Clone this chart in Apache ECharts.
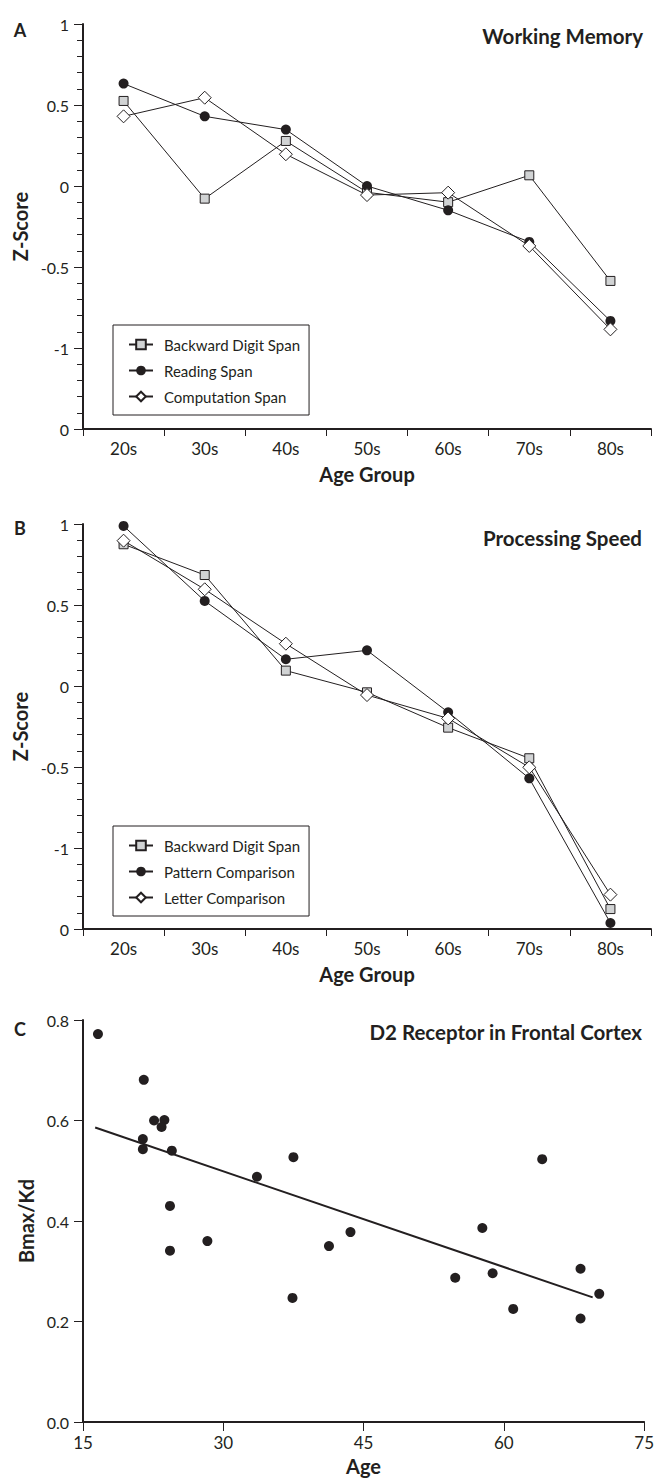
<!DOCTYPE html>
<html><head><meta charset="utf-8">
<script src="https://cdn.jsdelivr.net/npm/echarts@6/dist/echarts.min.js"></script>
<style>html,body{margin:0;padding:0;background:#fff}#c{width:657px;height:1478px}</style>
</head><body><div id="c"></div>
<script>
// ---------- data ----------
const ageGroups = ['20s', '30s', '40s', '50s', '60s', '70s', '80s'];
const zTickValues = [-1.5, -1, -0.5, 0, 0.5, 1];
const zTickLabels = ['0', '-1', '-0.5', '0', '0.5', '1'];

// Panel A: Working Memory
const wmBackwardDigit = [0.525, -0.078, 0.278, -0.039, -0.10, 0.066, -0.586];
const wmReading       = [0.632, 0.43, 0.348, 0.0, -0.15, -0.345, -0.833];
const wmComputation   = [0.43, 0.545, 0.196, -0.056, -0.041, -0.37, -0.885];

// Panel B: Processing Speed
const psBackwardDigit = [0.875, 0.685, 0.095, -0.039, -0.257, -0.446, -1.377];
const psPattern       = [0.988, 0.525, 0.165, 0.22, -0.162, -0.57, -1.463];
const psLetter        = [0.897, 0.597, 0.261, -0.056, -0.2, -0.502, -1.288];

// Panel C: D2 receptor in frontal cortex
const d2Age   = [16.6, 21.5, 22.6, 23.7, 23.4, 21.4, 21.4, 24.5, 24.3, 24.3, 28.3, 33.6, 37.5, 37.4, 41.3, 43.6, 54.8, 57.7, 58.8, 61.0, 64.1, 68.2, 68.2, 70.2];
const d2Ratio = [0.772, 0.681, 0.600, 0.601, 0.587, 0.563, 0.543, 0.540, 0.430, 0.341, 0.360, 0.488, 0.527, 0.247, 0.350, 0.378, 0.287, 0.386, 0.296, 0.225, 0.523, 0.305, 0.206, 0.255];
const fitAge   = [16.3, 69.5];
const fitRatio = [0.586, 0.248];

// ---------- style ----------
const ink = '#231f20';
const font = 'Lato';
const grey = '#d1d3d4';

function zLabel(v) {
  for (let i = 0; i < zTickValues.length; i++) if (Math.abs(zTickValues[i] - v) < 1e-9) return zTickLabels[i];
  return '';
}
function nameStyle() { return {fontSize: 20, fontWeight: 'bold', color: ink, fontFamily: font}; }

function zAxis(gi) {
  return {
    type: 'value', gridIndex: gi, min: -1.5, max: 1, interval: 0.5,
    name: 'Z-Score', nameLocation: 'middle', nameGap: 44, nameRotate: 90, nameTextStyle: nameStyle(),
    axisLine: {show: true, onZero: false, lineStyle: {color: ink, width: 2}},
    axisTick: {show: true, length: 9, lineStyle: {color: ink, width: 1}},
    minorTick: {show: true, splitNumber: 5, length: 6, lineStyle: {color: ink, width: 1}},
    splitLine: {show: false}, minorSplitLine: {show: false},
    axisLabel: {margin: 14, fontSize: 16, color: ink, fontFamily: font, formatter: zLabel}
  };
}
function ageAxis(gi) {
  return {
    type: 'category', gridIndex: gi, data: ageGroups, boundaryGap: true,
    name: 'Age Group', nameLocation: 'middle', nameGap: 35, nameTextStyle: nameStyle(),
    axisLine: {show: true, onZero: false, lineStyle: {color: ink, width: 2}},
    axisTick: {show: true, length: 7, interval: 0, alignWithLabel: false, lineStyle: {color: ink, width: 1}},
    axisLabel: {margin: 11, fontSize: 17, color: ink, fontFamily: font, interval: 0},
    splitLine: {show: false}
  };
}
function lineSeries(name, data, gi, kind) {
  const base = {
    type: 'line', name: name, data: data, xAxisIndex: gi, yAxisIndex: gi,
    lineStyle: {color: ink, width: 1}, showSymbol: true, symbolKeepAspect: true, z: 3
  };
  if (kind === 'square') {
    base.symbol = 'rect'; base.symbolSize = 9;
    base.itemStyle = {color: grey, borderColor: ink, borderWidth: 1};
  } else if (kind === 'circle') {
    base.symbol = 'circle'; base.symbolSize = 10;
    base.itemStyle = {color: ink, borderColor: ink, borderWidth: 0};
  } else {
    base.symbol = 'diamond'; base.symbolSize = 13;
    base.itemStyle = {color: '#ffffff', borderColor: ink, borderWidth: 1};
  }
  return base;
}
function legend(top, names) {
  return {
    left: 113, top: top, orient: 'vertical', data: names, selectedMode: false,
    itemWidth: 24, itemHeight: 12, itemGap: 11, padding: [12, 9, 11, 15],
    borderColor: ink, borderWidth: 1, backgroundColor: '#fff',
    textStyle: {fontSize: 15, color: ink, fontFamily: font, padding: [0, 0, 0, 6]}
  };
}
function txt(x, y, text, size, align) {
  return {type: 'text', x: x, y: y, silent: true,
    style: {text: text, align: align, verticalAlign: 'middle', fontSize: size, fontWeight: 'bold', fontFamily: font, fill: ink}};
}

const chart = echarts.init(document.getElementById('c'), null, {renderer: 'svg', width: 657, height: 1478});
chart.setOption({
  animation: false,
  backgroundColor: '#fff',
  textStyle: {fontFamily: font},
  grid: [
    {left: 83, top: 24, width: 568, height: 405},
    {left: 83, top: 524, width: 568, height: 405},
    {left: 83, top: 1020, width: 567, height: 402}
  ],
  xAxis: [
    ageAxis(0), ageAxis(1),
    {
      type: 'value', gridIndex: 2, min: 15, max: 75, interval: 15,
      name: 'Age', nameLocation: 'middle', nameGap: 34, nameTextStyle: nameStyle(),
      axisLine: {show: true, onZero: false, lineStyle: {color: ink, width: 2}},
      axisTick: {show: true, length: 9, lineStyle: {color: ink, width: 1}},
      axisLabel: {margin: 12, fontSize: 17, color: ink, fontFamily: font},
      splitLine: {show: false}
    }
  ],
  yAxis: [
    zAxis(0), zAxis(1),
    {
      type: 'value', gridIndex: 2, min: 0, max: 0.8, interval: 0.2,
      name: 'Bmax/Kd', nameLocation: 'middle', nameGap: 44, nameRotate: 90, nameTextStyle: nameStyle(),
      axisLine: {show: true, onZero: false, lineStyle: {color: ink, width: 2}},
      axisTick: {show: true, length: 9, lineStyle: {color: ink, width: 1}},
      axisLabel: {margin: 14, fontSize: 16, color: ink, fontFamily: font, formatter: v => v.toFixed(1)},
      splitLine: {show: false}
    }
  ],
  legend: [
    legend(325, ['Backward Digit Span', 'Reading Span', 'Computation Span']),
    legend(826, ['Backward Digit Span', 'Pattern Comparison', 'Letter Comparison'])
  ],
  graphic: [
    txt(20, 30, 'A', 18, 'center'),
    txt(20, 528, 'B', 18, 'center'),
    txt(20, 1029, 'C', 18, 'center'),
    txt(643, 36, 'Working Memory', 20.5, 'right'),
    txt(642, 538, 'Processing Speed', 20.5, 'right'),
    txt(642, 1032, 'D2 Receptor in Frontal Cortex', 20.5, 'right')
  ],
  series: [
    lineSeries('Backward Digit Span', wmBackwardDigit, 0, 'square'),
    lineSeries('Reading Span', wmReading, 0, 'circle'),
    lineSeries('Computation Span', wmComputation, 0, 'diamond'),
    lineSeries('Backward Digit Span', psBackwardDigit, 1, 'square'),
    lineSeries('Pattern Comparison', psPattern, 1, 'circle'),
    lineSeries('Letter Comparison', psLetter, 1, 'diamond'),
    {
      type: 'scatter', name: 'D2', xAxisIndex: 2, yAxisIndex: 2,
      data: d2Age.map((a, i) => [a, d2Ratio[i]]),
      symbol: 'circle', symbolSize: 10, itemStyle: {color: ink, opacity: 1}
    },
    {
      type: 'line', name: 'Fit', xAxisIndex: 2, yAxisIndex: 2,
      data: fitAge.map((a, i) => [a, fitRatio[i]]),
      showSymbol: false, symbol: 'none', lineStyle: {color: ink, width: 2}
    }
  ]
});
</script>
</body></html>
